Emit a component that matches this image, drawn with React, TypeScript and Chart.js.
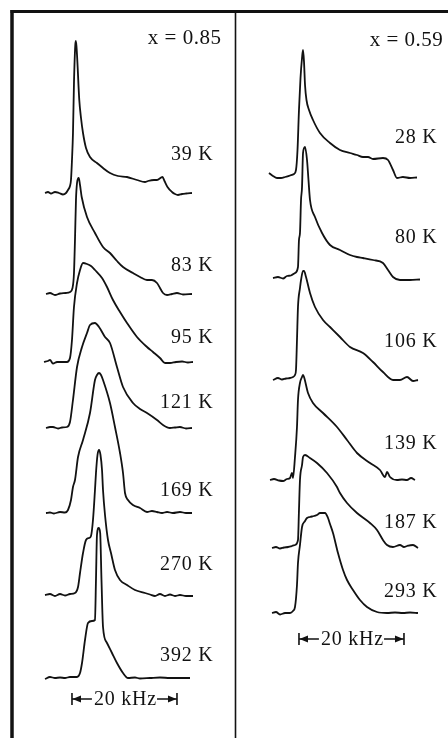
import React, { useEffect, useRef } from "react";
import { Chart, registerables } from "chart.js";

Chart.register(...registerables);

type Pt = [number, number];

// ---------- DATA : [frequency (kHz), NMR intensity (arb. units)] ----------
// Panel x = 0.85
const s85_39K: Pt[] = [[0,0],[0.57,0.5],[1.14,-0.25],[1.9,0.5],[2.67,0],[3.43,-0.75],[4.0,0],[4.38,1.5],[4.76,3.5],[4.95,6.5],[5.14,16.5],[5.33,30],[5.52,55],[5.77,74],[5.9,76],[6.1,69],[6.53,46.5],[6.86,37.5],[7.24,30],[7.81,22.5],[8.57,18],[9.9,15],[11.05,12.5],[12.38,10],[13.9,8.5],[15.62,8],[17.52,6.5],[19.05,5.5],[19.62,6],[20.76,6.5],[21.33,6.5],[22.38,8],[22.76,6],[23.33,3],[24.19,0.5],[24.76,-0.5],[25.33,-1],[26.1,-0.5],[26.86,-0.25],[28.0,0]];
const s85_83K: Pt[] = [[0.19,0],[0.95,0.5],[1.9,-0.5],[2.86,0.25],[4.0,0.5],[4.76,1],[5.24,3],[5.52,10.5],[5.71,27],[5.9,47],[6.1,55.5],[6.42,58],[6.67,54.5],[6.99,48.5],[8.0,38.5],[9.52,30.5],[11.05,23.5],[12.38,20.5],[13.71,16.5],[14.86,13.5],[16.76,10.5],[18.1,8.5],[19.43,7],[20.38,7],[21.33,5.5],[21.9,3],[22.48,0.5],[23.24,-0.5],[24.19,0],[25.14,0.5],[26.29,-0.25],[28.0,0]];
const s85_95K: Pt[] = [[-0.19,0],[0.57,0.5],[0.95,1],[1.52,-0.75],[2.29,0],[3.24,0],[4.19,0],[4.76,2],[5.14,11],[5.52,27.5],[6.1,39.5],[6.67,46],[7.24,49.5],[8.0,49],[8.76,48],[9.52,46],[10.86,42],[11.81,37.5],[12.95,31],[14.29,25],[15.62,19.5],[17.52,12.5],[19.43,7.5],[20.57,5],[21.9,2],[22.86,-0.5],[23.81,-0.5],[24.95,0],[26.1,0.25],[27.24,-0.25],[28.19,0]];
const s85_121K: Pt[] = [[0.19,0],[0.95,0.5],[1.52,0.5],[2.48,-0.25],[3.24,0.25],[4.19,0.5],[4.76,3],[5.33,14],[6.1,30.5],[7.05,40.5],[8.0,47.5],[8.57,51.5],[9.52,52.5],[10.29,50.5],[11.43,45.5],[12.38,42.5],[13.71,30.5],[14.86,20.5],[16.76,12.5],[18.1,9.5],[19.43,7.5],[21.33,4],[22.48,1.5],[23.81,0],[24.76,0.25],[25.71,0.5],[26.86,-0.25],[28.0,0]];
const s85_169K: Pt[] = [[0.19,0],[0.95,0.25],[1.71,-0.25],[2.86,0.5],[3.81,0.25],[4.38,1.5],[4.95,6.5],[5.33,13],[5.71,16.5],[6.29,28],[7.24,36.5],[8.57,50],[9.52,66.5],[9.9,69],[10.29,70],[10.67,69],[11.05,66.5],[12.38,55],[13.33,43],[14.29,30],[14.86,20],[15.24,10],[15.81,6.5],[16.76,4],[18.1,2.5],[19.43,0.5],[20.38,1],[21.33,0.5],[22.29,0],[23.24,0.5],[24.38,0],[25.71,0.5],[26.86,0],[28.0,0]];
const s85_270K: Pt[] = [[0,0],[0.95,0.5],[1.9,-0.5],[2.86,0.5],[3.81,-0.25],[4.76,0.5],[5.71,1],[6.29,4],[6.67,11],[7.24,21],[7.81,27.5],[8.38,28.5],[8.76,29.5],[9.14,37.5],[9.52,52.5],[9.71,61],[10.0,70],[10.29,72.5],[10.57,70],[10.86,62.5],[11.05,52.5],[11.43,40],[12.0,27.5],[12.57,21],[13.33,12.5],[14.29,7.5],[15.62,5],[17.14,2.5],[19.05,1],[20.0,0.25],[20.95,-0.5],[21.9,0.5],[22.86,-0.5],[23.81,0.25],[24.76,-0.5],[25.71,0],[26.86,-0.5],[28.19,-0.5]];
const s85_392K: Pt[] = [[0,-0.5],[0.95,0.5],[1.9,0],[2.86,0.25],[3.81,0],[4.76,0.5],[6.1,0.5],[6.67,2.5],[7.05,7.5],[7.62,19],[8.19,27.5],[8.95,28.5],[9.52,29],[9.71,49],[9.9,71.5],[10.23,75],[10.51,72.5],[10.76,49],[11.05,25.5],[11.81,17.5],[12.76,12.5],[13.71,7.5],[14.86,2.5],[15.81,0],[17.14,0.25],[18.1,-0.25],[20.0,0],[21.9,0.25],[23.81,0],[25.71,0],[27.62,0]];

// Panel x = 0.59
const s59_28K: Pt[] = [[0,2],[0.76,0.5],[1.52,-0.5],[2.29,-0.5],[3.05,0],[4.0,0.75],[4.76,1.5],[5.14,3.5],[5.43,13.5],[5.71,33.5],[6.0,49.5],[6.29,59.5],[6.48,63.5],[6.67,57.5],[6.86,46],[7.14,38.5],[7.62,33.5],[8.38,28.5],[9.71,22],[11.62,17],[13.52,13.5],[15.43,12],[16.76,11],[17.9,10],[18.86,10],[19.81,9],[21.71,9.5],[22.67,8.5],[23.62,3.5],[24.38,-0.5],[25.52,0],[26.86,-0.5],[28.19,-0.25]];
const s59_80K: Pt[] = [[0.76,0.5],[1.71,1],[2.67,0.25],[3.43,1.5],[4.19,1.75],[4.95,3],[5.52,6],[5.71,19.5],[5.9,23],[6.1,39.5],[6.29,46],[6.48,63],[6.86,66],[7.24,59.5],[7.52,49.5],[7.81,39.5],[8.76,31],[10.1,23],[11.62,17],[13.52,14.5],[15.43,12],[16.76,11],[17.9,10.5],[19.81,9.5],[21.71,8],[22.67,4.5],[23.62,1],[24.95,-0.5],[26.86,-0.5],[28.76,-0.25]];
const s59_106K: Pt[] = [[0.76,-0.5],[1.71,0.5],[2.48,-0.25],[3.24,0.25],[4.0,0.5],[4.57,1],[4.95,2],[5.14,4.5],[5.33,19.5],[5.52,36],[5.9,45.5],[6.1,49.5],[6.48,54],[6.67,54],[7.05,51],[7.81,43],[8.76,36],[10.29,29.5],[11.62,26],[13.52,21],[15.43,16],[17.9,13],[19.81,8.5],[21.71,3.5],[23.62,-0.5],[24.95,-0.5],[26.29,1],[27.43,-1],[28.38,-0.5]];
const s59_139K: Pt[] = [[0.19,0],[0.95,0.5],[1.9,-0.25],[2.67,-0.5],[3.43,0.5],[4.0,1],[4.38,3.5],[4.57,1],[4.95,11.5],[5.33,26.5],[5.52,40],[5.9,48.5],[6.29,51.5],[6.48,52.5],[6.67,51.5],[7.43,43.5],[8.38,38.5],[10.29,33.5],[12.95,26.5],[14.86,20],[16.76,13.5],[19.24,8.5],[21.14,5],[22.1,1.5],[22.48,4],[23.05,1.5],[24.38,0],[25.33,0.25],[26.29,0],[27.05,1],[27.81,0]];
const s59_187K: Pt[] = [[0.57,0],[1.33,0.5],[2.1,-0.25],[2.86,0.25],[3.62,0.5],[4.38,1],[4.95,1.5],[5.52,4],[5.71,19],[5.9,34],[6.29,41.5],[6.48,45.5],[6.86,46.5],[7.81,45],[9.14,42.5],[11.05,37.5],[12.95,30.5],[13.52,27.5],[14.86,22.5],[16.76,17.5],[19.24,12.5],[20.57,9],[21.71,4],[22.48,1.5],[23.62,0.5],[24.95,1.5],[25.71,0.5],[26.29,1],[27.43,1.5],[28.38,0]];
const s59_293K: Pt[] = [[0.57,0],[1.33,0.5],[2.1,-0.75],[3.05,0],[4.0,0],[4.57,1],[4.95,3],[5.33,14],[5.52,25],[5.9,34],[6.29,43],[6.86,46],[7.24,47.5],[7.81,48],[8.57,48.5],[9.14,49],[9.71,50],[10.1,50],[10.67,50],[11.24,47.5],[11.62,44.5],[12.19,40],[13.14,30],[14.1,21.5],[14.86,16.5],[16.0,11.5],[17.33,6.5],[18.67,3],[20.57,0.5],[22.48,0],[24.0,0.25],[25.52,0],[26.86,0.25],[28.38,0]];

const spectra85 = [s85_39K, s85_83K, s85_95K, s85_121K, s85_169K, s85_270K, s85_392K];
const temps85 = ["39 K", "83 K", "95 K", "121 K", "169 K", "270 K", "392 K"];
const offsets85 = [272.5, 222, 188, 155, 112.5, 71.5, 30]; // waterfall stacking

const spectra59 = [s59_28K, s59_80K, s59_106K, s59_139K, s59_187K, s59_293K];
const temps59 = ["28 K", "80 K", "106 K", "139 K", "187 K", "293 K"];
const offsets59 = [280.5, 229.5, 179.5, 129, 95, 62.5];

const panelTitles = ["x = 0.85", "x = 0.59"];
const scaleBarKHz = 20;

// ---------- LAYOUT / STYLE ----------
const W = 448;
const H = 738;
const INK = "#121212";
const SERIF = '"Liberation Serif", "Times New Roman", serif';
const labelLift85 = [19, 14, 12, 12.5, 11, 15, 11];
const labelLift59 = [19.5, 20.5, 18.5, 18, 12.5, 10.5];
const labelAnchorKHz = 32.1;

const decorPlugin = {
  id: "decor",
  afterDraw(chart: any) {
    const ctx: CanvasRenderingContext2D = chart.ctx;
    const xL = chart.scales.xL;
    const xR = chart.scales.xR;
    const y = chart.scales.y;
    ctx.save();
    // frame
    ctx.strokeStyle = INK;
    ctx.lineWidth = 3;
    ctx.beginPath();
    ctx.moveTo(10.5, 11.5);
    ctx.lineTo(W, 11.5);
    ctx.stroke();
    ctx.lineWidth = 3.5;
    ctx.beginPath();
    ctx.moveTo(12, 10);
    ctx.lineTo(12, H);
    ctx.stroke();
    ctx.lineWidth = 1.6;
    ctx.beginPath();
    ctx.moveTo(235.5, 12);
    ctx.lineTo(235.5, H);
    ctx.stroke();

    ctx.fillStyle = INK;
    ctx.textAlign = "right";
    ctx.textBaseline = "middle";
    // panel titles
    ctx.font = `21px ${SERIF}`;
    (ctx as any).letterSpacing = "0.5px";
    ctx.fillText(panelTitles[0], xL.getPixelForValue(33.6), y.getPixelForValue(350));
    ctx.fillText(panelTitles[1], xR.getPixelForValue(33.2), y.getPixelForValue(349));
    // temperature labels
    ctx.font = `20px ${SERIF}`;
    (ctx as any).letterSpacing = "0.8px";
    temps85.forEach((t, i) => {
      ctx.fillText(t, xL.getPixelForValue(labelAnchorKHz), y.getPixelForValue(offsets85[i] + labelLift85[i]));
    });
    temps59.forEach((t, i) => {
      ctx.fillText(t, xR.getPixelForValue(labelAnchorKHz), y.getPixelForValue(offsets59[i] + labelLift59[i]));
    });
    // scale bars
    const bar = (scale: any, k0: number, yv: number) => {
      const x0 = scale.getPixelForValue(k0);
      const x1 = scale.getPixelForValue(k0 + scaleBarKHz);
      const yy = y.getPixelForValue(yv);
      ctx.lineWidth = 1.6;
      ctx.beginPath();
      ctx.moveTo(x0, yy - 6);
      ctx.lineTo(x0, yy + 6);
      ctx.moveTo(x1, yy - 6);
      ctx.lineTo(x1, yy + 6);
      ctx.stroke();
      ctx.font = `20px ${SERIF}`;
      (ctx as any).letterSpacing = "0.8px";
      const text = `${scaleBarKHz} kHz`;
      const w = ctx.measureText(text).width;
      const mid = (x0 + x1) / 2;
      ctx.textAlign = "center";
      ctx.fillText(text, mid + 1, yy + 1);
      const tl = mid - w / 2 - 1;
      const tr = mid + w / 2 + 1;
      ctx.beginPath();
      ctx.moveTo(tl, yy);
      ctx.lineTo(x0, yy);
      ctx.moveTo(tr, yy);
      ctx.lineTo(x1, yy);
      ctx.stroke();
      ctx.beginPath();
      ctx.moveTo(x0 + 0.5, yy);
      ctx.lineTo(x0 + 9, yy - 3.5);
      ctx.lineTo(x0 + 9, yy + 3.5);
      ctx.closePath();
      ctx.moveTo(x1 - 0.5, yy);
      ctx.lineTo(x1 - 9, yy - 3.5);
      ctx.lineTo(x1 - 9, yy + 3.5);
      ctx.closePath();
      ctx.fill();
    };
    bar(xL, 5.14, 19.5);
    bar(xR, 5.71, 49.5);
    ctx.restore();
  },
};

export default function App() {
  const ref = useRef<HTMLCanvasElement | null>(null);
  useEffect(() => {
    if (!ref.current) return;
    const mk = (s: Pt[], off: number, axis: string) => ({
      data: s.map(([k, v]) => ({ x: k, y: v + off })),
      xAxisID: axis,
      yAxisID: "y",
      borderColor: INK,
      borderWidth: 1.8,
      pointRadius: 0,
      cubicInterpolationMode: "monotone",
      fill: false,
    });
    const datasets = [
      ...spectra85.map((s, i) => mk(s, offsets85[i], "xL")),
      ...spectra59.map((s, i) => mk(s, offsets59[i], "xR")),
    ];
    const chart = new Chart(ref.current, {
      type: "line",
      data: { datasets },
      options: {
        responsive: false,
        animation: false,
        layout: { padding: 0 },
        plugins: { legend: { display: false }, tooltip: { enabled: false }, title: { display: false } },
        scales: {
          xL: { type: "linear", axis: "x", position: "bottom", display: false, min: -8.571, max: 76.762 },
          xR: { type: "linear", axis: "x", position: "bottom", display: false, min: -51.238, max: 34.095 },
          y: { type: "linear", axis: "y", position: "left", display: false, min: 0, max: 369 },
        },
      } as any,
      plugins: [decorPlugin],
    });
    return () => chart.destroy();
  }, []);
  return (
    <div style={{ position: "absolute", left: 0, top: 0, width: W, height: H, background: "#fff" }}>
      <canvas ref={ref} width={W} height={H} style={{ display: "block", width: W, height: H }} />
    </div>
  );
}
